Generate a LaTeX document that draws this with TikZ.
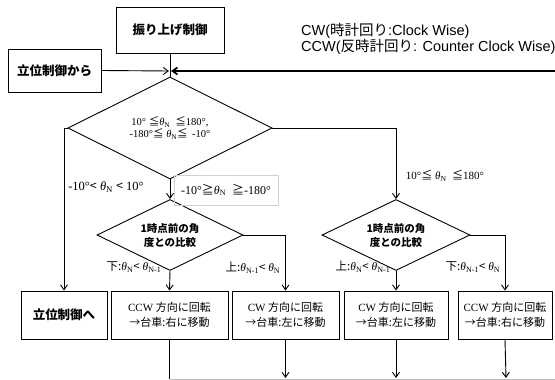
\documentclass[tikz,border=0pt]{standalone}
\usepackage{fontspec}
\setmainfont{Liberation Serif}
\newfontfamily\jp{Noto Sans CJK JP}
\newfontfamily\sansf{Liberation Sans}
\usetikzlibrary{shapes.geometric,arrows.meta}
\newcommand{\thN}{\textit{θ}\textsubscript{N}}
\newcommand{\thNm}{\textit{θ}\textsubscript{N-1}}
\begin{document}
\begin{tikzpicture}[x=1pt,y=-1pt,
  box/.style={draw,line width=0.9pt,inner sep=1pt,align=center,font=\jp\bfseries\fontsize{12.5}{14}\selectfont},
  actbox/.style={draw,line width=0.9pt,inner sep=1pt,align=center,minimum height=48pt,font=\fontsize{11}{15}\selectfont},
  dia/.style={draw,diamond,line width=0.9pt,inner sep=0pt,align=center,aspect=2},
  lbl/.style={inner sep=0pt,font=\fontsize{11.5}{13}\selectfont},
  conn/.style={line width=0.9pt},
  arr/.style={line width=0.9pt,-{Straight Barb[length=5pt,width=7pt]}}]
\useasboundingbox (0,0) rectangle (555,380);
% boxes
\node[box,minimum width=108pt,minimum height=46pt] (top) at (170,30) {振り上げ制御};
\node[box,minimum width=93pt,minimum height=43pt] (from) at (54.5,70.5) {立位制御から};
\node[box,minimum width=86pt,minimum height=48pt] (to) at (64,315) {立位制御へ};
\node[actbox,minimum width=117pt] (b1) at (169.5,315) {CCW {\jp 方向に回転}\\{\jp →台車:右に移動}};
\node[actbox,minimum width=107pt] (b2) at (285.5,315) {CW {\jp 方向に回転}\\{\jp →台車:左に移動}};
\node[actbox,minimum width=104pt] (b3) at (396,315) {CW {\jp 方向に回転}\\{\jp →台車:左に移動}};
\node[actbox,minimum width=94pt] (b4) at (505,315) {CCW {\jp 方向に回転}\\{\jp →台車:右に移動}};
% diamonds
\node[dia,minimum width=204pt,minimum height=102pt,font=\fontsize{10.5}{12}\selectfont] (d0) at (170,128) {10° {\jp ≦}\thN\ \ {\jp ≦}180°,\\-180°{\jp ≦} \thN{\jp ≦} \,-10°};
\node[dia,minimum width=146pt,minimum height=71pt,font=\jp\bfseries\fontsize{10.5}{14}\selectfont] (d1) at (170,235) {1時点前の角\\度との比較};
\node[dia,minimum width=148pt,minimum height=71pt,font=\jp\bfseries\fontsize{10.5}{14}\selectfont] (d2) at (396,235) {1時点前の角\\度との比較};
% legend
\node[anchor=base west,inner sep=0pt,font=\sansf\fontsize{14.5}{17}\selectfont] (leg1) at (301,35) {CW({\jp 時計回り}:Clock Wise)};
\node[anchor=base west,inner sep=0pt,font=\sansf\fontsize{14.5}{17}\selectfont] (leg2) at (301,52) {CCW({\jp 反時計回り}: Counter Clock Wise)};
% coordinates
\coordinate (J) at (170,71);
\coordinate (R) at (555,71);
\coordinate (e1) at (169.5,379);
\coordinate (eR) at (555,379);
\coordinate (e2) at (285.5,378);
\coordinate (e3) at (396,378);
\coordinate (e4) at (506,378);
% connectors
\draw[conn] (top.south) -- (d0.north);
\draw[arr] (from.east) -- ([xshift=-1pt]J);
\draw[arr,line width=1.7pt] (R) -- ([xshift=1pt]J);
\draw[arr] (d0.west) -| (to.north);
\draw[arr] (d0.south) -- (d1.north);
\draw[arr] (d0.east) -| (d2.north);
\draw[arr] (d1.south) -- (b1.north);
\draw[arr] (d1.east) -| (b2.north);
\draw[arr] (d2.south) -- (b3.north);
\draw[arr] (d2.east) -| (b4.north);
\draw[conn] (b1.south) -- (e1);
\draw[line width=0.6pt,gray!50] (e1) -- (eR);
\draw[arr] (b2.south) -- (e2);
\draw[arr] (b3.south) -- (e3);
\draw[arr] (b4.south) -- (e4);
% labels
\node[lbl,font=\fontsize{12.5}{14}\selectfont] (l0) at (106,187) {-10°{\jp <} \thN\ {\jp <} 10°};
\node[lbl,draw=gray!35,line width=0.5pt,minimum width=104pt,minimum height=30pt,font=\fontsize{12}{14}\selectfont] (l1) at (226,190) {-10°{\jp ≧}\thN\ \ {\jp ≧}-180°};
\node[lbl,font=\fontsize{11}{13}\selectfont] (l2) at (445,176) {10°{\jp ≦} \thN\ \ {\jp ≦}180°};
\node[lbl] (l3) at (134,267) {{\jp 下:}\thN{\jp <} \thNm};
\node[lbl] (l4) at (253,268) {{\jp 上:}\thNm{\jp <} \thN};
\node[lbl] (l5) at (363,267) {{\jp 上:}\thN{\jp <} \thNm};
\node[lbl] (l6) at (473,267) {{\jp 下:}\thNm{\jp <} \thN};
\end{tikzpicture}
\end{document}
